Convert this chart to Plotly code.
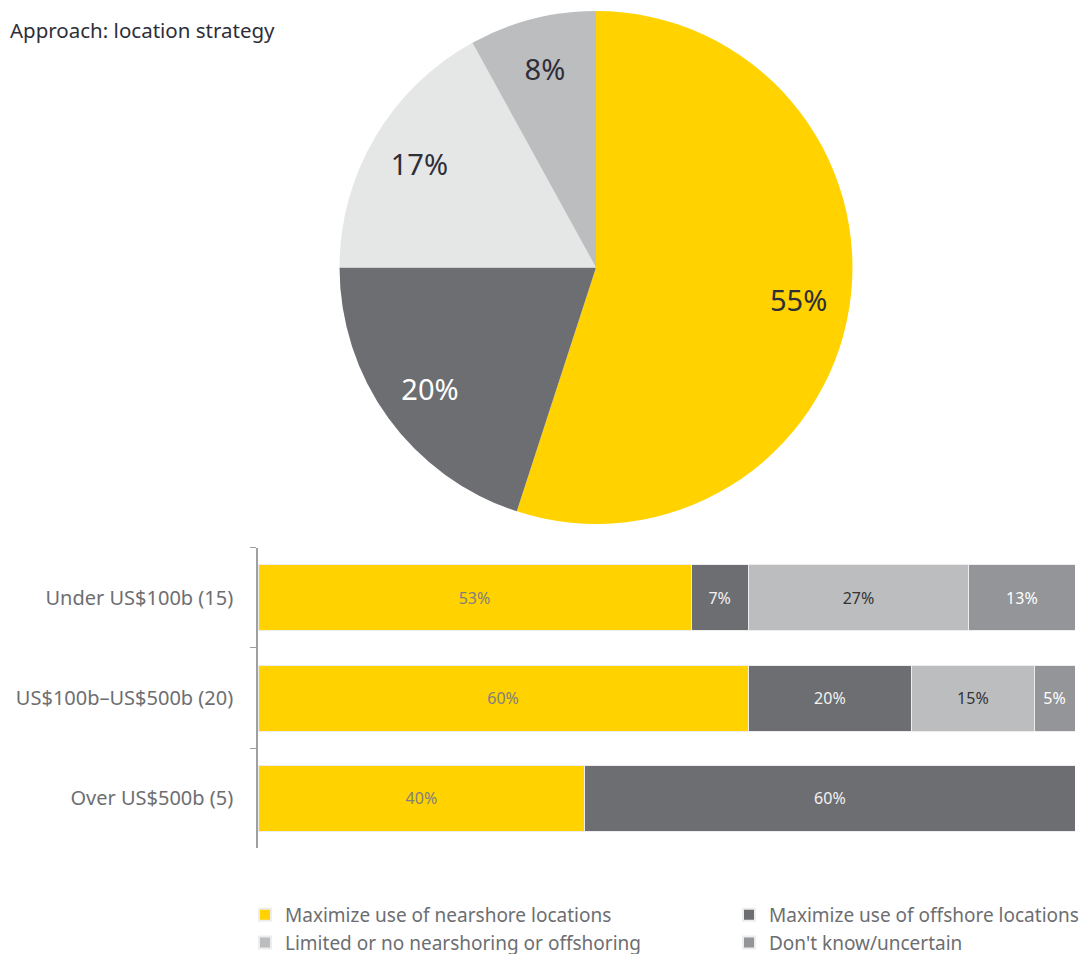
import plotly.graph_objects as go

# ---- Data ----
pie_labels = ["Maximize use of nearshore locations", "Maximize use of offshore locations",
              "Limited or no nearshoring or offshoring", "Don't know/uncertain"]
pie_values = [55, 20, 17, 8]

categories = ["Under US$100b (15)", "US$100b–US$500b (20)", "Over US$500b (5)"]
series_names = ["Maximize use of nearshore locations", "Maximize use of offshore locations",
                "Limited or no nearshoring or offshoring", "Don't know/uncertain"]
nearshore = [53, 60, 40]
offshore = [7, 20, 60]
limited = [27, 15, 0]
dont_know = [13, 5, 0]

title_text = "Approach: location strategy"

# ---- Styles ----
bar_colors = ["#FFD200", "#6D6E71", "#BCBDBF", "#939598"]
bar_text_colors = ["#7F7F7F", "#F2F2F2", "#333333", "#FFFFFF"]
legend_ids = ["legend", "legend2", "legend", "legend2"]
pie_colors = ["#FFD200", "#6D6E71", "#E5E6E6", "#BCBDBF"]
pie_text_colors = ["#2E2E38", "#FFFFFF", "#2E2E38", "#2E2E38"]
FONT = "Noto Sans"
W, H = 1092, 954
OX, OY = 8, 8  # default page body margin of the written html


def px(x):
    return (x - OX) / W


def py(y):
    return 1 - (y - OY) / H


fig = go.Figure()

pie_domain = dict(x=[px(339), px(853)], y=[py(525), py(11)])
# coloured slices
fig.add_trace(go.Pie(
    labels=pie_labels, values=pie_values, sort=False, direction="clockwise",
    rotation=0, marker=dict(colors=pie_colors, line=dict(width=0)),
    textinfo="none", domain=pie_domain, showlegend=False, hoverinfo="label+percent",
))
# transparent ring carrying the labels (places them towards the rim)
fig.add_trace(go.Pie(
    labels=pie_labels, values=pie_values, sort=False, direction="clockwise",
    rotation=0, hole=0.6,
    marker=dict(colors=["rgba(0,0,0,0)"] * 4, line=dict(width=0)),
    texttemplate="%{value}%", textinfo="text", textposition="inside",
    insidetextorientation="horizontal",
    textfont=dict(family=FONT, size=29, color=pie_text_colors),
    domain=pie_domain, showlegend=False, hoverinfo="skip",
))

series_vals = [nearshore, offshore, limited, dont_know]
for name, vals, col, tcol, lg in zip(series_names, series_vals, bar_colors, bar_text_colors, legend_ids):
    fig.add_trace(go.Bar(
        y=categories, x=vals, name=name, orientation="h", legend=lg,
        marker=dict(color=col, line=dict(color="#EDEDED", width=1)),
        text=[f"{v}%" if v > 0 else "" for v in vals],
        textposition="inside", insidetextanchor="middle",
        textfont=dict(family=FONT, size=16, color=tcol),
        cliponaxis=False,
    ))

legend_common = dict(orientation="v", yanchor="top", xanchor="left",
                     font=dict(family=FONT, size=19, color="#6D6E71"),
                     itemsizing="constant", traceorder="normal", itemwidth=30,
                     bgcolor="rgba(0,0,0,0)", tracegroupgap=0)

fig.update_layout(
    width=W, height=H,
    margin=dict(l=0, r=0, t=0, b=0),
    paper_bgcolor="white", plot_bgcolor="white",
    barmode="stack", bargap=0.34,
    font=dict(family=FONT, color="#6D6E71"),
    uniformtext=dict(mode=False),
    xaxis=dict(domain=[px(258), px(1075)], range=[0, 100], visible=False, fixedrange=True),
    yaxis=dict(domain=[py(850), py(549)], autorange="reversed",
               showline=True, linecolor="#A0A0A0", linewidth=1.5,
               ticks="outside", tickson="boundaries", ticklen=6, tickcolor="#A0A0A0",
               ticklabelstandoff=19,
               tickfont=dict(family=FONT, size=20, color="#6D6E71"),
               showgrid=False, zeroline=False),
    legend=dict(x=px(245), y=py(898), **legend_common),
    legend2=dict(x=px(729), y=py(898), **legend_common),
    annotations=[dict(text=title_text, xref="paper", yref="paper",
                      x=px(8), y=py(30), xanchor="left", yanchor="middle",
                      showarrow=False, font=dict(family=FONT, size=20.5, color="#2E2E38"))],
)

fig.write_html("out.html")
